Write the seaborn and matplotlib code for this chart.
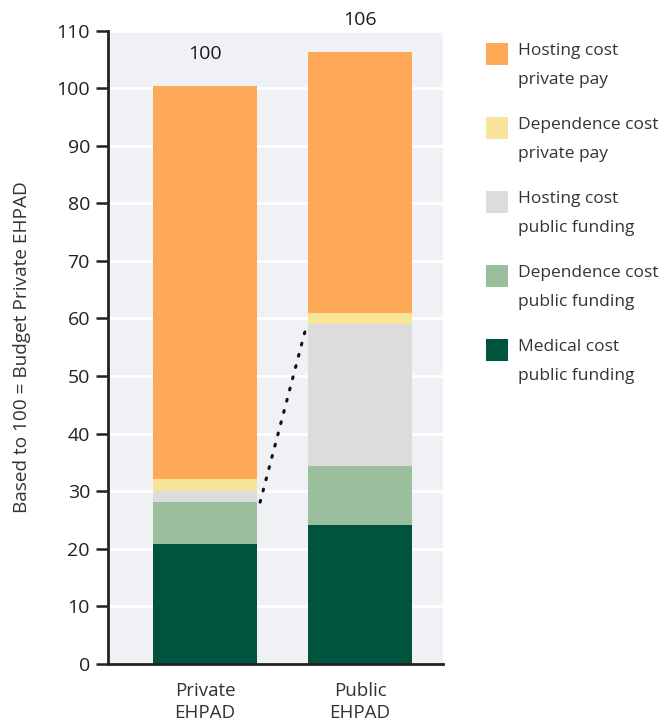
import numpy as np
import pandas as pd
import matplotlib
matplotlib.use("Agg")
import matplotlib.pyplot as plt
import seaborn as sns

# Data
categories = ["Private\nEHPAD", "Public\nEHPAD"]
medical_public = [20.8, 24.1]
dependence_public = [7.3, 10.2]
hosting_public = [1.9, 24.8]
dependence_private = [2.2, 1.9]
hosting_private = [68.2, 45.2]

series_names = [
    "Medical cost\npublic funding",
    "Dependence cost\npublic funding",
    "Hosting cost\npublic funding",
    "Dependence cost\nprivate pay",
    "Hosting cost\nprivate pay",
]
series_values = [medical_public, dependence_public, hosting_public,
                 dependence_private, hosting_private]
series_colors = ["#00533c", "#9bbf9d", "#dcdcdc", "#f8e59a", "#fea958"]

y_ticks = list(range(0, 111, 10))

sns.set_theme(style="white")
plt.rcParams["font.family"] = ["Open Sans", "DejaVu Sans"]

fig = plt.figure(figsize=(6.68, 7.23), dpi=100)
W, H = 668, 723
ax = fig.add_axes([108 / W, 1 - 664 / H, (443 - 108) / W, (664 - 30.5) / H])
ax.set_facecolor("#f0f1f4")

# Horizontal guide lines behind the bars
for yt in y_ticks[1:]:
    ax.axhline(yt, color="white", linewidth=2, zorder=0.5)

# Stacked bars: draw cumulative heights from the tallest down
cum = np.cumsum(np.array(series_values), axis=0)
for i in range(len(series_names) - 1, -1, -1):
    d = pd.DataFrame({"cat": categories, "val": cum[i]})
    sns.barplot(data=d, x="cat", y="val", color=series_colors[i],
                saturation=1, width=0.67, ax=ax, zorder=2,
                edgecolor="none", linewidth=0)

# Totals above the bars
totals = cum[-1]
for xi, t in enumerate(totals):
    ax.annotate(f"{t:.0f}", (xi, t), xytext=(0, 32), textcoords="offset pixels",
                ha="center", va="center", fontsize=14, fontweight="medium",
                color="#1a1a1a", annotation_clip=False)

# Dotted connector between the public-funded parts of both bars
ax.plot([0.355, 0.658], [cum[1][0], cum[2][1]], color="#111111",
        linestyle=(0, (0.6, 3.2)), linewidth=2.2, dash_capstyle="round",
        zorder=3)

ax.set_xlim(-0.626, 1.535)
ax.set_ylim(0, 110)
ax.set_yticks(y_ticks)
ax.grid(False)
for s in ["top", "right"]:
    ax.spines[s].set_visible(False)
for s in ["left", "bottom"]:
    ax.spines[s].set_color("#222222")
    ax.spines[s].set_linewidth(2)
ax.tick_params(axis="y", direction="out", length=9, width=1.8, color="#222222",
               labelsize=14, labelcolor="#222222", pad=4, left=True)
ax.tick_params(axis="x", length=0, labelsize=13.5, labelcolor="#333333", pad=13)
ax.set_xlabel("")
ax.set_ylabel("Based to 100 = Budget Private EHPAD", fontsize=13.7,
              color="#333333")
ax.yaxis.set_label_coords((31 - 108) / (443 - 108), 0.5)
for lab in ax.get_xticklabels():
    lab.set_linespacing(1.3)

# Legend on the right
legend_order = list(range(len(series_names) - 1, -1, -1))
for k, i in enumerate(legend_order):
    top = 43 + 74 * k
    fig.patches.append(plt.Rectangle((486 / W, 1 - (top + 22) / H), 22 / W, 22 / H,
                                     transform=fig.transFigure,
                                     facecolor=series_colors[i], edgecolor="none"))
    fig.text(518 / W, 1 - (top + 22.5) / H, series_names[i], ha="left",
             va="center", fontsize=12.5, color="#333333", linespacing=2.06)

fig.savefig("out.png", dpi=100)
